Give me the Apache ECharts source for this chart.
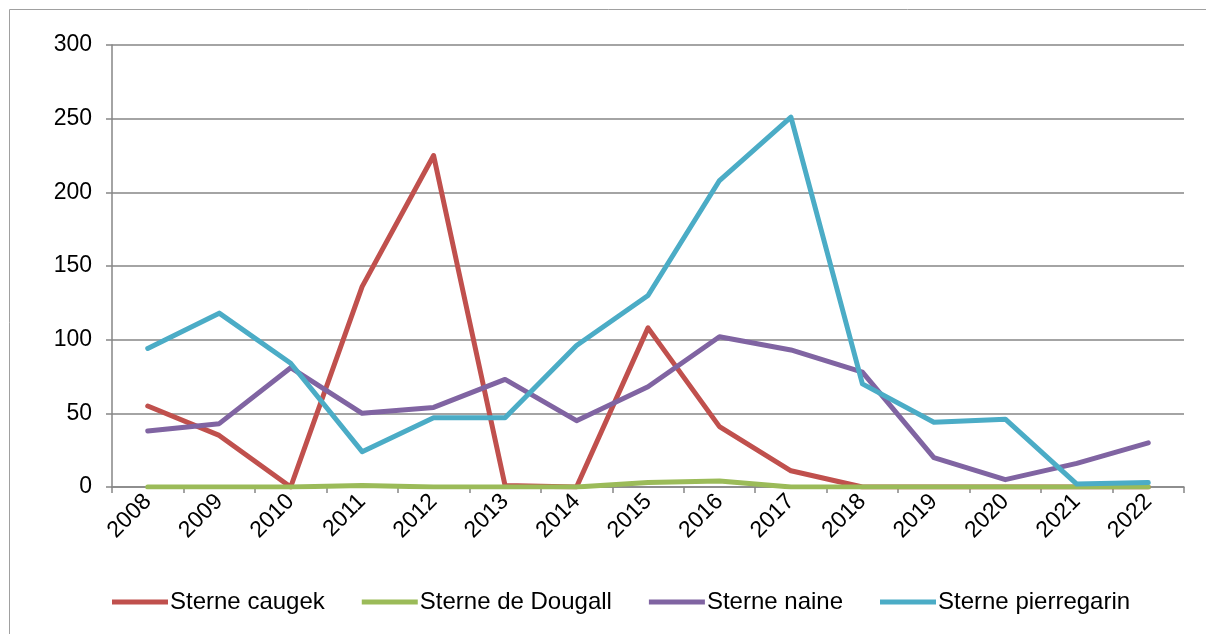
<!DOCTYPE html>
<html>
<head>
<meta charset="utf-8">
<script src="https://cdn.jsdelivr.net/npm/echarts@6/dist/echarts.min.js"></script>
<style>
  html, body { margin: 0; padding: 0; background: #fff; }
  #main { width: 1206px; height: 634px; }
</style>
</head>
<body>
<div id="main"></div>
<script>
var years = ['2008', '2009', '2010', '2011', '2012', '2013', '2014', '2015', '2016', '2017', '2018', '2019', '2020', '2021', '2022'];
var caugek = [55, 35, 0, 136, 225, 1, 0, 108, 41, 11, 0, 0, 0, 0, 0];
var dougall = [0, 0, 0, 1, 0, 0, 0, 3, 4, 0, 0, 0, 0, 0, 0];
var naine = [38, 43, 81, 50, 54, 73, 45, 68, 102, 93, 78, 20, 5, 16, 30];
var pierregarin = [94, 118, 84, 24, 47, 47, 96, 130, 208, 251, 70, 44, 46, 2, 3];
var yTicks = [0, 50, 100, 150, 200, 250, 300];

var font = '"Liberation Sans", Arial, sans-serif';
var gridColor = '#868686';

function line(name, data, color) {
  return {
    name: name,
    type: 'line',
    data: data,
    symbol: 'none',
    lineStyle: { color: color, width: 5, cap: 'round', join: 'round' },
    itemStyle: { color: color }
  };
}

var chart = echarts.init(document.getElementById('main'));
chart.setOption({
  animation: false,
  backgroundColor: '#fff',
  graphic: [{
    type: 'rect',
    shape: { x: 9.5, y: 9.5, width: 1400, height: 800 },
    style: { fill: 'none', stroke: '#a0a0a0', lineWidth: 1 },
    z: -1
  }],
  grid: { left: 112, right: 22, top: 45, bottom: 147, containLabel: false },
  legend: {
    bottom: 20,
    left: 112,
    padding: 0,
    icon: 'rect',
    itemWidth: 56,
    itemHeight: 5,
    itemGap: 37,
    textStyle: { fontFamily: font, fontSize: 24, color: '#000', padding: [0, 0, 0, -3] },
    data: ['Sterne caugek', 'Sterne de Dougall', 'Sterne naine', 'Sterne pierregarin']
  },
  xAxis: {
    type: 'category',
    data: years,
    boundaryGap: true,
    axisLine: { lineStyle: { color: gridColor, width: 1.5 } },
    axisTick: { show: true, length: 6, lineStyle: { color: gridColor, width: 1.5 } },
    axisLabel: { rotate: 45, fontFamily: font, fontSize: 23, color: '#000', margin: 11 }
  },
  yAxis: {
    type: 'value',
    min: yTicks[0],
    max: yTicks[yTicks.length - 1],
    interval: 50,
    axisLine: { show: true, lineStyle: { color: gridColor, width: 1.5 } },
    axisTick: { show: true, length: 6, lineStyle: { color: gridColor, width: 1.5 } },
    axisLabel: { fontFamily: font, fontSize: 23, color: '#000', margin: 20 },
    splitLine: { lineStyle: { color: gridColor, width: 1.5 } }
  },
  series: [
    line('Sterne caugek', caugek, '#C0504D'),
    line('Sterne de Dougall', dougall, '#9BBB59'),
    line('Sterne naine', naine, '#8064A2'),
    line('Sterne pierregarin', pierregarin, '#4BACC6')
  ]
});
</script>
</body>
</html>
